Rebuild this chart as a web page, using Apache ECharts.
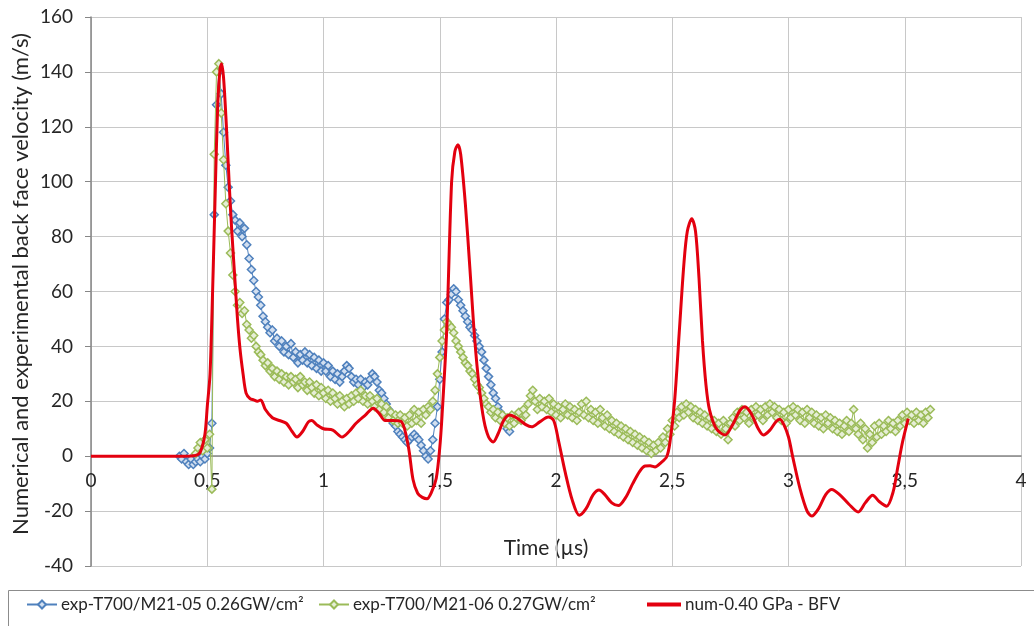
<!DOCTYPE html>
<html>
<head>
<meta charset="utf-8">
<script src="https://cdn.jsdelivr.net/npm/echarts@6/dist/echarts.min.js"></script>
<style>
html,body{margin:0;padding:0;background:#fff;}
#c{width:1034px;height:626px;}
</style>
</head>
<body>
<div id="c"></div>
<script>
// ---- data ----
const seriesNames = ['exp-T700/M21-05 0.26GW/cm²', 'exp-T700/M21-06 0.27GW/cm²', 'num-0.40 GPa - BFV'];
const xTicks = [0, 0.5, 1, 1.5, 2, 2.5, 3, 3.5, 4];
const yTicks = [-40, -20, 0, 20, 40, 60, 80, 100, 120, 140, 160];
const xTitle = 'Time (µs)';
const yTitle = 'Numerical and experimental back face velocity (m/s)';

// experimental series 1 (sampled every 0.01 µs from 0.38 µs)
const blueStart = 0.38, blueStep = 0.01;
const blueVel = [
  0,-1,1,-2,-3,-1,-3,-2,-1,-2, 0,-1,1,3,12,88,128,140,132,118,
  106,98,93,88,86,82,85,80,83,77, 72,68,64,60,58,55,51,49,47,45,
  46,42,43,40,42,38,40,37,41,36, 38,34,37,35,38,34,37,33,36,32,
  35,31,34,31,33,29,31,28,30,27, 29,31,33,32,29,27,28,26,28,25,
  27,26,28,30,29,27,24,23,21,19, 17,15,12,11,9,8,7,6,5,6,
  7,8,7,6,4,2,0,-1,2,6, 12,18,28,38,50,56,57,59,61,60,
  57,55,53,51,49,47,46,44,42,40, 38,35,32,29,26,23,21,18,16,14,
  12,10,9
];

// experimental series 2 (sampled every 0.01 µs from 0.45 µs)
const greenStart = 0.45, greenStep = 0.01;
const greenVel = [
  1,3,5,2,6,3,8,-12,110,140, 143,125,108,92,82,74,66,60,55,56,
  52,53,48,46,43,44,40,38,37,35, 33,34,31,32,29,31,28,30,27,29,
  26,29,27,28,25,29,26,27,24,27, 25,23,26,22,25,23,21,24,20,23,
  21,19,22,20,18,21,19,22,20,23, 21,24,20,22,19,22,20,18,21,17,
  19,16,18,14,16,13,15,12,15,12, 14,11,15,12,17,13,16,12,17,15,
  18,17,20,24,30,36,42,46,49,48, 47,45,42,40,38,36,34,33,31,30,
  28,26,25,23,21,19,18,16,17,14, 16,13,15,12,14,11,15,12,14,16,
  13,17,15,19,22,24,20,17,21,18, 20,17,21,16,19,15,18,14,17,19,
  15,18,14,17,13,16,19,15,20,14, 17,13,16,12,17,14,11,15,10,13,
  9,12,8,11,7,10,6,9,5,8, 4,7,3,6,2,5,1,4,2,5,
  3,7,5,10,8,13,11,16,14,18, 15,19,16,18,14,17,13,16,12,15,
  11,14,10,13,9,12,8,13,10,6, 12,14,11,16,13,17,14,16,12,17,
  14,18,15,17,13,18,15,19,16,18, 14,17,13,16,12,17,14,18,15,17,
  13,16,12,17,14,16,12,15,11,14, 10,15,12,14,10,13,9,12,8,11,
  13,9,12,17,10,8,12,6,10,3, 8,5,11,7,12,8,11,9,13,10,
  12,9,13,11,15,12,16,13,15,12, 16,13,15,12,16,14,17
];

// numerical series [time µs, velocity m/s]
const numData = [
  [0,0],[0.40,0],[0.45,0.3],[0.47,1.5],[0.49,8],[0.50,18],[0.512,30],[0.523,60],[0.533,92],[0.545,128],
  [0.555,141],[0.562,143],[0.57,138],[0.58,124],[0.59,107],[0.60,90],[0.61,76],[0.62,63],[0.63,50],[0.641,39],
  [0.654,30],[0.667,23],[0.684,21],[0.70,20.5],[0.715,20],[0.73,20.5],[0.75,17],[0.78,14],[0.81,13],[0.84,12],
  [0.865,9],[0.886,7],[0.91,9],[0.935,12.5],[0.95,13],[0.97,11.5],[1.0,10],[1.04,9.5],[1.08,7],[1.11,9],
  [1.14,12],[1.18,15],[1.214,17.5],[1.24,15.5],[1.265,13],[1.30,13],[1.336,12.5],[1.365,3.5],[1.385,-8.5],[1.405,-13.5],
  [1.425,-15],[1.445,-15.5],[1.465,-13],[1.485,-8],[1.50,3],[1.51,15],[1.53,46],[1.551,100],[1.565,111],[1.578,113.5],
  [1.59,110],[1.61,92],[1.63,68],[1.65,43],[1.67,25],[1.69,13],[1.71,7],[1.73,5.2],[1.75,8],[1.775,13],
  [1.80,15],[1.83,14],[1.87,11.5],[1.895,10.7],[1.93,12.5],[1.967,14.3],[1.99,13],[2.01,6],[2.04,-6],[2.07,-16],
  [2.10,-21.5],[2.13,-19],[2.16,-14],[2.185,-12.3],[2.21,-14],[2.24,-17],[2.268,-18],[2.30,-15],[2.33,-10],[2.36,-5.5],
  [2.383,-3.6],[2.405,-3.5],[2.426,-3.9],[2.45,-2.5],[2.476,-0.2],[2.49,5],[2.51,20],[2.53,45],[2.55,70],[2.565,82],
  [2.584,86.5],[2.60,82],[2.615,65],[2.63,42],[2.645,26],[2.66,17],[2.69,10],[2.727,7.7],[2.76,11.5],[2.79,16.5],
  [2.813,18],[2.84,15.5],[2.87,10],[2.892,7.7],[2.92,9.5],[2.945,12.5],[2.963,13.5],[2.98,11.5],[3.0,7],[3.02,-1],
  [3.05,-12],[3.08,-20],[3.10,-21.8],[3.13,-19],[3.16,-14],[3.186,-12.1],[3.22,-14],[3.26,-17.5],[3.30,-20.3],[3.33,-17],
  [3.362,-14.2],[3.39,-16.5],[3.422,-18.2],[3.45,-13],[3.47,-4],[3.49,5],[3.515,13.7]
];

// ---- build ----
const blueData = blueVel.map((v, i) => [+(blueStart + i * blueStep).toFixed(3), v]);
const greenData = greenVel.map((v, i) => [+(greenStart + i * greenStep).toFixed(3), v]);

const FONT = 'Lato, "Open Sans", sans-serif';
const TXT = '#262626';
const GRID = {left: 91, right: 13, top: 17, bottom: 60};
const W = 1034, H = 626;
const chart = echarts.init(document.getElementById('c'), null, {renderer: 'canvas'});

// place the x axis line on y = 0 (computed from the y scale)
const yMin = yTicks[0], yMax = yTicks[yTicks.length - 1];
const plotH = H - GRID.top - GRID.bottom;
const zeroOffset = -plotH * (0 - yMin) / (yMax - yMin);

const legendBase = {
  top: 596, itemWidth: 30, itemHeight: 10, padding: 0,
  textStyle: {fontSize: 17, color: TXT, fontFamily: FONT, padding: [0, 0, 0, -1]}
};

chart.setOption({
  animation: false,
  backgroundColor: '#ffffff',
  textStyle: {fontFamily: FONT},
  grid: Object.assign({containLabel: false, outerBoundsMode: 'none'}, GRID),
  xAxis: {
    type: 'value',
    min: xTicks[0], max: xTicks[xTicks.length - 1], interval: 0.5,
    offset: zeroOffset,
    axisLine: {show: true, onZero: false, lineStyle: {color: '#868686', width: 1.5}},
    axisTick: {show: false},
    axisLabel: {fontSize: 19, color: TXT, margin: 15, fontFamily: FONT,
      formatter: v => String(v).replace('.', ',')},
    splitLine: {show: true, lineStyle: {color: '#c8c8c8', width: 1}}
  },
  yAxis: {
    type: 'value',
    min: yMin, max: yMax, interval: 20,
    axisLine: {show: true, onZero: false, lineStyle: {color: '#868686', width: 1.5}},
    axisTick: {show: true, length: 6, lineStyle: {color: '#868686'}},
    axisLabel: {fontSize: 19, color: TXT, margin: 18, fontFamily: FONT},
    splitLine: {show: true, lineStyle: {color: '#c8c8c8', width: 1}}
  },
  legend: [
    Object.assign({}, legendBase, {left: 26, data: [seriesNames[0]]}),
    Object.assign({}, legendBase, {left: 318, data: [seriesNames[1]]}),
    Object.assign({}, legendBase, {left: 647, itemWidth: 34, itemHeight: 4,
      data: [{name: seriesNames[2], icon: 'rect'}]})
  ],
  graphic: [
    {
      type: 'rect', left: 6, top: 588,
      shape: {width: 1040, height: 50},
      style: {fill: 'none', stroke: '#8c8c8c', lineWidth: 1},
      silent: true, z: -1
    },
    {
      type: 'text', x: 21, y: 284, rotation: Math.PI / 2,
      style: {text: yTitle, fontSize: 22, fill: TXT, fontFamily: FONT, align: 'center', verticalAlign: 'middle'},
      silent: true
    },
    {
      type: 'text', x: 546, y: 548,
      style: {text: xTitle, fontSize: 21, fill: TXT, fontFamily: FONT, align: 'center', verticalAlign: 'middle'},
      silent: true
    }
  ],
  series: [
    {
      name: seriesNames[0], type: 'line', data: blueData,
      symbol: 'diamond', symbolSize: 8, showAllSymbol: true,
      itemStyle: {color: '#d2dff0', borderColor: '#4f81bd', borderWidth: 1.5},
      lineStyle: {color: '#4f81bd', width: 1},
      z: 2
    },
    {
      name: seriesNames[1], type: 'line', data: greenData,
      symbol: 'diamond', symbolSize: 8, showAllSymbol: true,
      itemStyle: {color: '#e6eed6', borderColor: '#9bbb59', borderWidth: 1.5},
      lineStyle: {color: '#9bbb59', width: 1},
      z: 3
    },
    {
      name: seriesNames[2], type: 'line', data: numData,
      symbol: 'none', smooth: 0.3,
      itemStyle: {color: '#e3000f'},
      lineStyle: {color: '#e3000f', width: 3},
      z: 4
    }
  ]
});
</script>
</body>
</html>
